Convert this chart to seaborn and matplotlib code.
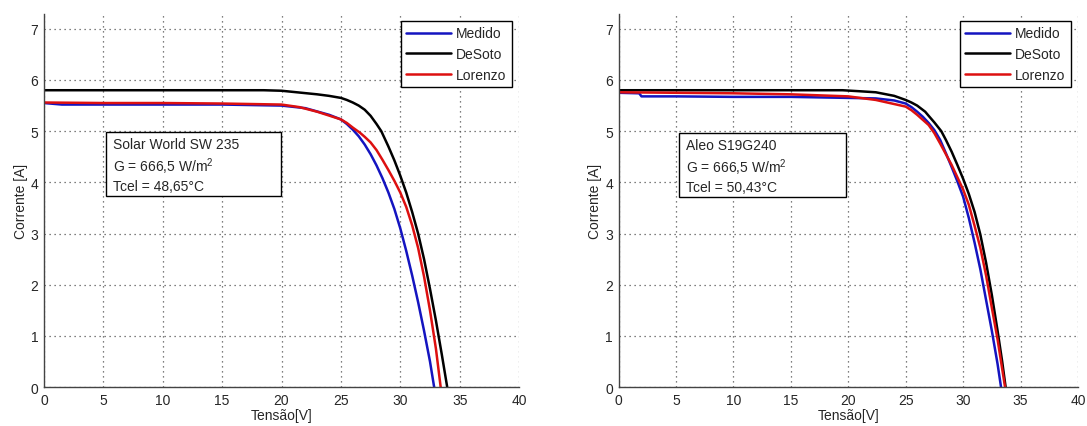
import matplotlib
matplotlib.use("Agg")
import matplotlib.pyplot as plt
import seaborn as sns
import pandas as pd

# Painel esquerdo - Solar World SW 235
sw_medido_v = [0, 1.5, 5, 10, 15, 20, 22, 24, 25, 25.5, 26, 26.5, 27, 27.5, 28, 28.5, 29, 29.5, 30,
               30.5, 31, 31.5, 32, 32.5, 32.85]
sw_medido_i = [5.55, 5.52, 5.52, 5.52, 5.52, 5.5, 5.45, 5.32, 5.23, 5.14, 5.03, 4.9, 4.74, 4.55, 4.33,
               4.08, 3.8, 3.48, 3.1, 2.66, 2.18, 1.66, 1.1, 0.5, 0]
sw_desoto_v = [0, 5, 10, 15, 18.5, 20, 21.5, 23, 24, 25, 25.5, 26, 26.5, 27, 27.5, 28, 28.4, 29, 29.5,
               30, 30.5, 31, 31.5, 32, 32.5, 33, 33.5, 33.95]
sw_desoto_i = [5.8, 5.8, 5.8, 5.8, 5.8, 5.79, 5.755, 5.72, 5.69, 5.65, 5.61, 5.56, 5.5, 5.42, 5.3,
               5.14, 5.0, 4.7, 4.43, 4.13, 3.8, 3.42, 3.0, 2.5, 1.92, 1.3, 0.63, 0]
sw_lorenzo_v = [0, 5, 10, 15, 20, 21.5, 23, 25, 25.5, 26, 26.6, 27, 27.5, 28, 28.5, 29, 29.5, 30,
                30.5, 31, 31.5, 32, 32.5, 33, 33.4]
sw_lorenzo_i = [5.56, 5.55, 5.55, 5.54, 5.52, 5.47, 5.38, 5.23, 5.16, 5.07, 4.97, 4.89, 4.78, 4.63,
                4.44, 4.24, 4.03, 3.8, 3.52, 3.16, 2.72, 2.16, 1.5, 0.75, 0]

# Painel direito - Aleo S19G240
al_medido_v = [0, 1.8, 2.0, 5, 10, 15, 20, 22.4, 24, 25, 25.5, 26, 26.5, 27, 27.5, 28, 28.5, 29, 29.5,
               30, 30.5, 31, 31.5, 32, 32.5, 33, 33.3]
al_medido_i = [5.75, 5.74, 5.68, 5.68, 5.67, 5.67, 5.65, 5.64, 5.6, 5.54, 5.47, 5.38, 5.28, 5.16, 5.02,
               4.83, 4.57, 4.3, 4.02, 3.72, 3.3, 2.82, 2.3, 1.7, 1.1, 0.45, 0]
al_desoto_v = [0, 5, 10, 15, 19.5, 21, 22.4, 24, 25, 25.5, 26, 26.7, 27, 27.5, 28.1, 28.5, 29, 29.5,
               30, 30.5, 31, 31.5, 32, 32.5, 33, 33.4, 33.7]
al_desoto_i = [5.8, 5.8, 5.8, 5.8, 5.8, 5.78, 5.76, 5.69, 5.61, 5.56, 5.5, 5.38, 5.3, 5.17, 5.0, 4.83,
               4.6, 4.34, 4.07, 3.77, 3.42, 2.98, 2.43, 1.8, 1.1, 0.5, 0]
al_lorenzo_v = [0, 5, 10, 15, 20, 22.4, 24, 25, 25.5, 26, 26.5, 27, 27.5, 28, 28.5, 29, 29.5, 30,
                30.5, 31, 31.5, 32, 32.5, 33, 33.3, 33.65]
al_lorenzo_i = [5.76, 5.75, 5.74, 5.72, 5.68, 5.61, 5.53, 5.48, 5.41, 5.32, 5.22, 5.12, 4.96, 4.76,
                4.55, 4.34, 4.1, 3.86, 3.56, 3.15, 2.72, 2.18, 1.55, 0.93, 0.5, 0]

names = ["Medido", "DeSoto", "Lorenzo"]
colors = {"Medido": "#1414c0", "DeSoto": "black", "Lorenzo": "#dd1010"}

sw_text = "Solar World SW 235\nG = 666,5 W/m$^2$\nTcel = 48,65°C"
al_text = "Aleo S19G240\nG = 666,5 W/m$^2$\nTcel = 50,43°C"

sns.set_style("white")
plt.rcParams['font.family'] = ['Liberation Sans', 'DejaVu Sans']
plt.rcParams['mathtext.fontset'] = 'custom'
plt.rcParams['mathtext.rm'] = 'Liberation Sans'


def draw(ax, vs, iss, label, box):
    df = pd.concat([pd.DataFrame({"V": v, "I": i, "Curva": n}) for n, v, i in zip(names, vs, iss)])
    sns.lineplot(data=df, x="V", y="I", hue="Curva", hue_order=names, palette=colors,
                 estimator=None, sort=False, lw=1.8, ax=ax)
    ax.set_xlim(0, 40)
    ax.set_ylim(0, 7.29)
    ax.set_xticks(range(0, 41, 5))
    ax.set_yticks(range(0, 8))
    ax.grid(True, linestyle=(0, (1, 3)), color="#555555", lw=0.9)
    ax.tick_params(direction="in", length=4, labelsize=10, color="#444444", pad=4)
    for s in ["top", "right"]:
        ax.spines[s].set_visible(False)
    for s in ["left", "bottom"]:
        ax.spines[s].set_color("#444444")
        ax.spines[s].set_linewidth(1.0)
    ax.set_xlabel("Tensão[V]", fontsize=10, labelpad=1)
    ax.set_ylabel("Corrente [A]", fontsize=10, labelpad=2)
    h, l = ax.get_legend_handles_labels()
    ax.legend(h, l, loc="upper right", fontsize=10, frameon=True, fancybox=False,
              edgecolor="black", framealpha=1, handlelength=3.2, borderaxespad=0.5,
              labelspacing=0.47, handletextpad=0.4, borderpad=0.4)
    x0, x1, y0, y1 = box
    ax.add_patch(plt.Rectangle((x0, y0), x1 - x0, y1 - y0, fc="white", ec="black", lw=1.0, zorder=5))
    ax.text(x0 + 0.6, (y0 + y1) / 2 - 0.02, label, fontsize=10, va="center", ha="left",
            linespacing=1.25, zorder=6)


fig = plt.figure(figsize=(10.87, 4.27), dpi=100)
ax1 = fig.add_axes([0.0405, 0.0913, 0.437, 0.8736])
ax2 = fig.add_axes([0.569, 0.0913, 0.4227, 0.8736])

draw(ax1, [sw_medido_v, sw_desoto_v, sw_lorenzo_v], [sw_medido_i, sw_desoto_i, sw_lorenzo_i],
     sw_text, (5.22, 19.96, 3.73, 4.99))
draw(ax2, [al_medido_v, al_desoto_v, al_lorenzo_v], [al_medido_i, al_desoto_i, al_lorenzo_i],
     al_text, (5.3, 19.8, 3.71, 4.97))

fig.savefig("out.png", dpi=100)
